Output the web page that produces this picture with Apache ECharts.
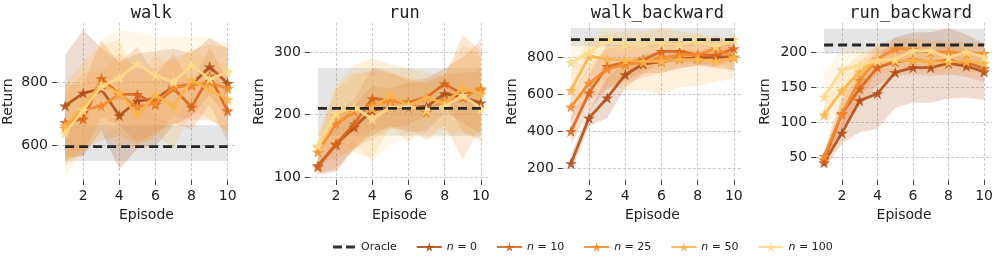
<!DOCTYPE html>
<html><head><meta charset="utf-8">
<script src="https://cdn.jsdelivr.net/npm/echarts@6/dist/echarts.min.js"></script>
<style>html,body{margin:0;padding:0;background:#fff}#c{width:996px;height:259px}</style>
</head><body><div id="c"></div>
<script>
// ---------------- data ----------------
const episodes = [1, 2, 3, 4, 5, 6, 7, 8, 9, 10];
const xTicks = [2, 4, 6, 8, 10];
const panelTitles = ['walk', 'run', 'walk_backward', 'run_backward'];
const seriesNames = ['n = 0', 'n = 10', 'n = 25', 'n = 50', 'n = 100'];

// mean returns, rows: n=0, n=10, n=25, n=50, n=100
const walkMean = [
  [726, 766, 779, 695, 741, 748, 786, 792, 849, 797],
  [674, 684, 812, 763, 762, 730, 781, 722, 820, 710],
  [655, 712, 725, 762, 722, 735, 785, 790, 800, 780],
  [662, 725, 796, 765, 697, 760, 725, 807, 777, 746],
  [641, 712, 786, 814, 859, 822, 801, 854, 810, 833]
];
const walkSpread = [
  [160, 200, 130, 170, 150, 150, 120, 100, 90, 110],
  [120, 110, 120, 100, 150, 90, 110, 70, 90, 100],
  [110, 120, 110, 130, 120, 110, 90, 110, 120, 130],
  [130, 140, 120, 170, 100, 130, 130, 100, 90, 110],
  [140, 130, 150, 150, 100, 120, 140, 90, 130, 90]
];
const runMean = [
  [118, 152, 180, 207, 212, 212, 213, 234, 228, 219],
  [116, 153, 185, 226, 223, 220, 228, 250, 232, 240],
  [140, 185, 205, 215, 222, 218, 204, 223, 228, 242],
  [148, 199, 210, 210, 231, 215, 228, 218, 243, 234],
  [150, 202, 212, 193, 212, 213, 208, 213, 231, 210]
];
const runSpread = [
  [12, 40, 35, 40, 30, 40, 40, 30, 40, 50],
  [12, 45, 40, 50, 45, 35, 30, 25, 60, 80],
  [20, 55, 60, 55, 45, 40, 45, 40, 100, 60],
  [20, 45, 70, 80, 50, 60, 40, 45, 70, 60],
  [20, 50, 55, 70, 60, 50, 45, 50, 60, 55]
];
const walkBackMean = [
  [228, 472, 580, 705, 762, 775, 790, 795, 800, 800],
  [401, 607, 750, 770, 786, 830, 830, 812, 808, 845],
  [531, 660, 735, 760, 770, 795, 810, 812, 845, 800],
  [621, 804, 789, 782, 777, 777, 786, 786, 777, 795],
  [771, 821, 898, 866, 875, 875, 866, 884, 857, 893]
];
const walkBackSpread = [
  [45, 40, 110, 70, 50, 60, 50, 40, 60, 70],
  [70, 100, 120, 90, 70, 60, 60, 50, 60, 60],
  [80, 90, 110, 100, 80, 80, 70, 60, 70, 80],
  [110, 90, 130, 160, 160, 180, 150, 140, 110, 110],
  [130, 80, 60, 50, 50, 50, 40, 50, 40, 40]
];
const runBackMean = [
  [43, 85, 131, 141, 171, 178, 178, 184, 180, 172],
  [47, 112, 148, 178, 186, 189, 186, 188, 185, 177],
  [52, 113, 160, 190, 205, 204, 200, 200, 198, 198],
  [111, 145, 172, 189, 188, 188, 186, 186, 187, 184],
  [136, 175, 181, 188, 190, 202, 202, 192, 200, 193]
];
const runBackSpread = [
  [8, 15, 45, 50, 50, 50, 50, 50, 45, 40],
  [8, 20, 25, 25, 20, 20, 20, 20, 20, 20],
  [10, 25, 25, 20, 15, 15, 15, 15, 15, 15],
  [12, 30, 25, 20, 15, 15, 15, 15, 15, 15],
  [35, 30, 25, 15, 15, 12, 12, 12, 12, 12]
];
const oracleValue = [597, 210, 893, 210];
const oracleLow = [552, 166, 857, 198];
const oracleHigh = [665, 275, 956, 233];
const yTicks = [[600, 800], [100, 200, 300], [200, 400, 600, 800], [50, 100, 150, 200]];
const yMin = [492, 95, 139.3, 18.4];
const yMax = [987, 347.4, 982.6, 241.2];

// ---------------- styling / layout ----------------
const colors = ['#b0501a', '#d9651c', '#f38a2c', '#fbb44b', '#fdd98c'];
const means = [walkMean, runMean, walkBackMean, runBackMean];
const spreads = [walkSpread, runSpread, walkBackSpread, runBackSpread];
const gridLefts = [56.6, 309.8, 562.8, 816.1];
const nameGaps = [42, 43, 43, 44];
const GW = 179.2, GT = 23, GH = 157;
const FONT = 'DejaVu Sans';
const STAR = 'path://M50 0 L61.17 34.63 L97.55 34.55 L68.07 55.87 L79.39 90.45 L50 69 L20.61 90.45 L31.93 55.87 L2.45 34.55 L38.83 34.63 Z';
const DASH_ICON = 'path://M0 0 L0.01 0 L0 0.01 Z M25 12 L24.99 12 L25 11.99 Z M2 4.6 H11 V7.4 H2 Z M15 4.6 H24 V7.4 H15 Z';

const grid = [], xAxis = [], yAxis = [], series = [], title = [];
for (let p = 0; p < 4; p++) {
  grid.push({left: gridLefts[p], top: GT, width: GW, height: GH, containLabel: false});
  title.push({
    text: panelTitles[p], left: gridLefts[p] + GW / 2, top: 0, textAlign: 'center',
    textStyle: {fontFamily: 'DejaVu Sans Mono', fontSize: 17, fontWeight: 'normal', color: '#222'}
  });
  xAxis.push({
    type: 'value', gridIndex: p, min: 0.55, max: 10.45,
    name: 'Episode', nameLocation: 'middle', nameGap: 28,
    nameTextStyle: {fontFamily: FONT, fontSize: 14, color: '#222'},
    axisLine: {show: false},
    axisTick: {show: true, length: 5, inside: false, customValues: xTicks, lineStyle: {color: '#444'}},
    axisLabel: {customValues: xTicks, fontFamily: FONT, fontSize: 14, color: '#222', margin: 9},
    splitLine: {show: true, lineStyle: {color: '#bbb', type: [3, 2], width: 0.8}}
  });
  yAxis.push({
    type: 'value', gridIndex: p, min: yMin[p], max: yMax[p],
    name: 'Return', nameLocation: 'middle', nameGap: nameGaps[p], nameRotate: 90,
    nameTextStyle: {fontFamily: FONT, fontSize: 14, color: '#222'},
    axisLine: {show: false},
    axisTick: {show: true, length: 5, inside: false, customValues: yTicks[p], lineStyle: {color: '#444'}},
    axisLabel: {customValues: yTicks[p], fontFamily: FONT, fontSize: 14, color: '#222', margin: 9},
    splitLine: {show: true, lineStyle: {color: '#bbb', type: [3, 2], width: 0.8}}
  });
  // oracle band
  series.push({
    type: 'custom', xAxisIndex: p, yAxisIndex: p, silent: true, z: 1, clip: true,
    data: [[episodes[0], oracleValue[p]]],
    renderItem: (params, api) => {
      const a = api.coord([episodes[0], oracleHigh[p]]);
      const b = api.coord([episodes[episodes.length - 1], oracleLow[p]]);
      return {type: 'rect', shape: {x: a[0], y: a[1], width: b[0] - a[0], height: b[1] - a[1]},
        style: {fill: 'rgba(150,150,150,0.25)'}};
    }
  });
  // series bands
  for (let s = 0; s < 5; s++) {
    const m = means[p][s], sp = spreads[p][s];
    series.push({
      type: 'custom', xAxisIndex: p, yAxisIndex: p, silent: true, z: 2, clip: true,
      data: [[episodes[0], m[0]]],
      renderItem: (params, api) => {
        const pts = [];
        for (let i = 0; i < episodes.length; i++) pts.push(api.coord([episodes[i], m[i] + sp[i]]));
        for (let i = episodes.length - 1; i >= 0; i--) pts.push(api.coord([episodes[i], m[i] - sp[i]]));
        return {type: 'polygon', shape: {points: pts}, style: {fill: colors[s], opacity: 0.2}};
      }
    });
  }
  // series lines
  for (let s = 0; s < 5; s++) {
    series.push({
      name: seriesNames[s], type: 'line', xAxisIndex: p, yAxisIndex: p, z: 4 + s,
      data: episodes.map((e, i) => [e, means[p][s][i]]),
      symbol: STAR, symbolSize: 12, symbolKeepAspect: true, showSymbol: true,
      lineStyle: {color: colors[s], width: 2.8, opacity: 0.9},
      itemStyle: {color: colors[s], opacity: 0.9},
      animation: false
    });
  }
  // oracle line
  series.push({
    name: 'Oracle', type: 'line', xAxisIndex: p, yAxisIndex: p, z: 10,
    data: [[episodes[0], oracleValue[p]], [episodes[episodes.length - 1], oracleValue[p]]],
    symbol: 'none', lineStyle: {color: '#262626', width: 2.8, type: [9, 5]},
    itemStyle: {color: '#262626'}, animation: false
  });
}

const chart = echarts.init(document.getElementById('c'), null, {renderer: 'canvas'});
chart.setOption({
  animation: false,
  backgroundColor: '#fff',
  title: title,
  grid: grid, xAxis: xAxis, yAxis: yAxis, series: series,
  legend: {
    data: [{name: 'Oracle', icon: DASH_ICON, itemStyle: {color: '#333'}}].concat(seriesNames),
    left: 326, top: 236, itemWidth: 25, itemHeight: 12, itemGap: 19,
    textStyle: {fontFamily: FONT, fontSize: 11, color: '#222',
      rich: {i: {fontFamily: FONT, fontSize: 11, fontStyle: 'italic', color: '#222'}}},
    formatter: (name) => name === 'Oracle' ? name : '{i|n}' + name.slice(1)
  }
});
</script>
</body></html>
